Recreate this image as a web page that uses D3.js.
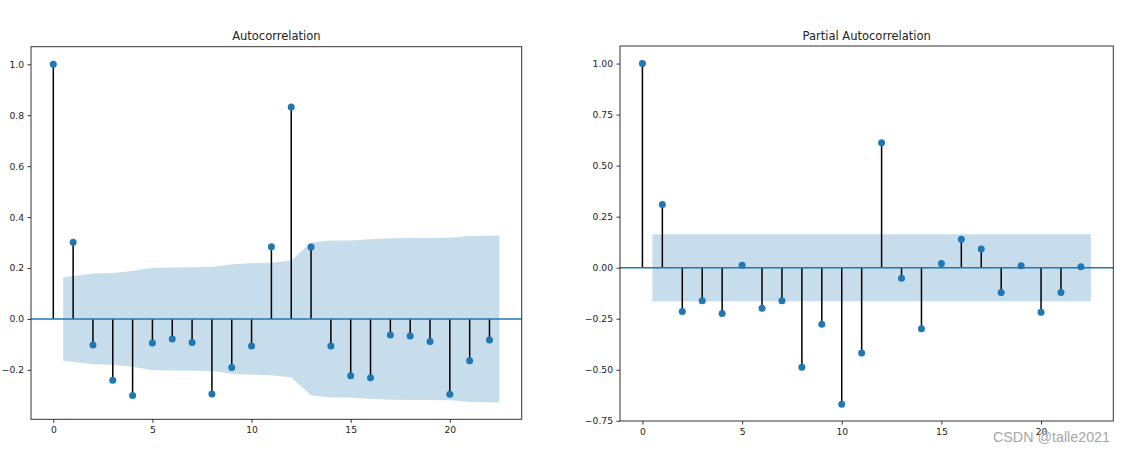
<!DOCTYPE html>
<html>
<head>
<meta charset="utf-8">
<script src="https://cdn.jsdelivr.net/npm/d3@7"></script>
<style>
  html, body { margin: 0; padding: 0; background: #fff; }
  svg { display: block; }
</style>
</head>
<body>
<svg id="chart" width="1128" height="450"></svg>
<script>
// ---- data ----
const lags = [0,1,2,3,4,5,6,7,8,9,10,11,12,13,14,15,16,17,18,19,20,21,22];
const acfValues = [1.0, 0.301, -0.102, -0.241, -0.301, -0.094, -0.079, -0.092, -0.295, -0.191, -0.106,
                   0.284, 0.832, 0.283, -0.106, -0.223, -0.231, -0.063, -0.067, -0.089, -0.296, -0.164, -0.083];
// confidence band half-widths for lags 1..22
const acfBand = [0.164, 0.178, 0.180, 0.188, 0.201, 0.202, 0.203, 0.204, 0.215, 0.219, 0.221,
                 0.230, 0.300, 0.308, 0.308, 0.313, 0.317, 0.318, 0.318, 0.319, 0.326, 0.328];
const pacfValues = [1.0, 0.310, -0.214, -0.162, -0.225, 0.012, -0.199, -0.162, -0.488, -0.277, -0.669,
                    -0.418, 0.612, -0.052, -0.299, 0.020, 0.139, 0.092, -0.122, 0.010, -0.218, -0.122, 0.005];
const pacfBand = [0.164, 0.164, 0.164, 0.164, 0.164, 0.164, 0.164, 0.164, 0.164, 0.164, 0.164,
                  0.164, 0.164, 0.164, 0.164, 0.164, 0.164, 0.164, 0.164, 0.164, 0.164, 0.164];
const xTicks = [0, 5, 10, 15, 20];
const acfYTicks = [-0.2, 0.0, 0.2, 0.4, 0.6, 0.8, 1.0];
const pacfYTicks = [-0.75, -0.50, -0.25, 0.00, 0.25, 0.50, 0.75, 1.00];
const titles = ["Autocorrelation", "Partial Autocorrelation"];
const watermark = "CSDN @talle2021";

// ---- drawing ----
const svg = d3.select("#chart");
const C0 = "#1f77b4";
const FONT = "'DejaVu Sans', sans-serif";

function panel(cfg) {
  const { left, right, top, bottom, yDomain, values, band, yTicks, yFmt, title } = cfg;
  const x = d3.scaleLinear().domain([-1.125, 23.625]).range([left, right]);
  const y = d3.scaleLinear().domain(yDomain).range([bottom, top]);
  const g = svg.append("g");

  // band
  const bandLags = lags.slice(1).map((l, i, a) => i === 0 ? l - 0.5 : (i === a.length - 1 ? l + 0.5 : l));
  const bandData = bandLags.map((l, i) => ({ x: l, w: band[i] }));
  g.append("path")
    .datum(bandData)
    .attr("d", d3.area().x(d => x(d.x)).y0(d => y(-d.w)).y1(d => y(d.w)))
    .attr("fill", C0).attr("fill-opacity", 0.25);

  // stems
  g.selectAll("line.stem").data(lags).enter().append("line")
    .attr("class", "stem")
    .attr("x1", d => x(d)).attr("x2", d => x(d))
    .attr("y1", y(0)).attr("y2", d => y(values[d]))
    .attr("stroke", "#000").attr("stroke-width", 1.5);

  // zero line
  g.append("line")
    .attr("x1", left).attr("x2", right).attr("y1", y(0)).attr("y2", y(0))
    .attr("stroke", C0).attr("stroke-width", 1.5);

  // markers
  g.selectAll("circle").data(lags).enter().append("circle")
    .attr("cx", d => x(d)).attr("cy", d => y(values[d])).attr("r", 3.5)
    .attr("fill", C0);

  // frame
  g.append("rect")
    .attr("x", left).attr("y", top).attr("width", right - left).attr("height", bottom - top)
    .attr("fill", "none").attr("stroke", "#333").attr("stroke-width", 1);

  // axes
  const xAxis = d3.axisBottom(x).tickValues(xTicks).tickSize(3.5).tickPadding(4).tickFormat(d3.format("d"));
  const ax = g.append("g").attr("transform", `translate(0,${bottom})`).call(xAxis);
  const yAxis = d3.axisLeft(y).tickValues(yTicks).tickSize(3.5).tickPadding(3.5)
    .tickFormat(d => d3.format(yFmt)(d).replace("-", "\u2212"));
  const ay = g.append("g").attr("transform", `translate(${left},0)`).call(yAxis);
  [ax, ay].forEach(a => {
    a.select(".domain").remove();
    a.selectAll(".tick line").attr("stroke", "#333").attr("stroke-width", 1);
    a.selectAll(".tick text").attr("fill", "#222").style("font-family", FONT).style("font-size", "9.2px");
  });

  // title
  g.append("text")
    .attr("x", (left + right) / 2).attr("y", top - 6.5)
    .attr("text-anchor", "middle")
    .style("font-family", FONT).style("font-size", "11.5px").attr("fill", "#222")
    .text(title);
}

panel({ left: 31, right: 521.7, top: 46.7, bottom: 419.3, yDomain: [-0.394, 1.069],
        values: acfValues, band: acfBand, yTicks: acfYTicks, yFmt: ".1f", title: titles[0] });
panel({ left: 620, right: 1113.3, top: 46, bottom: 421, yDomain: [-0.751, 1.086],
        values: pacfValues, band: pacfBand, yTicks: pacfYTicks, yFmt: ".2f", title: titles[1] });

svg.append("text")
  .attr("x", 1110).attr("y", 441.5).attr("text-anchor", "end")
  .style("font-family", "'Liberation Sans', Arial, sans-serif").style("font-size", "14.3px")
  .attr("fill", "#9a9a9a").attr("fill-opacity", 0.9)
  .text(watermark);
</script>
</body>
</html>
